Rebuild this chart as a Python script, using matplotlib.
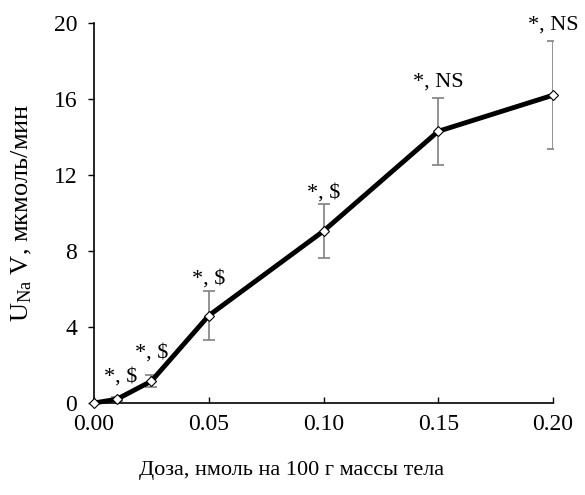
import matplotlib
matplotlib.use("Agg")
import matplotlib.pyplot as plt

plt.rcParams['font.family'] = ['Liberation Serif', 'DejaVu Serif']
plt.rcParams['mathtext.fontset'] = 'custom'
plt.rcParams['mathtext.rm'] = 'Liberation Serif'

dose = [0.0, 0.01, 0.025, 0.05, 0.10, 0.15, 0.20]
uv = [0.0, 0.2, 1.15, 4.6, 9.05, 14.3, 16.2]
err = [0.0, 0.1, 0.3, 1.3, 1.4, 1.75, 2.85]
labels = ['', '*, $', '*, $', '*, $', '*, $', '*, NS', '*, NS']
xticks = [0.0, 0.05, 0.10, 0.15, 0.20]
yticks = [0, 4, 8, 12, 16, 20]

# label layout (offsets in points above the error bar top)
label_dx = [0, 3, 0, 0, 0, 0, 0]
label_dy = [0, 8, 9.5, 1.5, 1.5, 5, 5]

fig = plt.figure(figsize=(5.85, 4.95), dpi=100)
ax = fig.add_axes([94/585, 1-403/495, (553-94)/585, (403-23)/495])

ax.errorbar(dose, uv, yerr=err, fmt='none', ecolor='#808080', elinewidth=1.2,
            capsize=4, capthick=1.2, zorder=2)
ax.plot(dose, uv, color='black', lw=3.5, zorder=3, clip_on=False)
ax.plot(dose, uv, ls='none', marker='D', ms=5, mfc='white', mec='black', mew=0.8,
        zorder=4, clip_on=False)

for x, y, e, lab, dx, dy in zip(dose, uv, err, labels, label_dx, label_dy):
    if lab:
        ax.annotate(lab, xy=(x, y + e), xytext=(dx, dy), textcoords='offset points',
                    ha='center', va='bottom', fontsize=16, annotation_clip=False)

ax.set_xlim(0, 0.2)
ax.set_ylim(0, 20)
ax.set_xticks(xticks)
ax.set_xticklabels([f'{v:.2f}' for v in xticks])
ax.set_yticks(yticks)
ax.tick_params(labelsize=17)
ax.tick_params(axis='y', direction='out', length=4, width=1, pad=8)
ax.tick_params(axis='x', direction='in', length=4, width=1, pad=8)
for s in ['top', 'right']:
    ax.spines[s].set_visible(False)
for s in ['left', 'bottom']:
    ax.spines[s].set_linewidth(1.2)

fig.text(292/585, 1-470/495, 'Доза, нмоль на 100 г массы тела', fontsize=16,
         ha='center', va='center')
fig.text(22/585, 1-213/495, r'$\mathrm{U_{Na}}$ V, мкмоль/мин', fontsize=19,
         ha='center', va='center', rotation=90)

fig.savefig('out.png', dpi=100)
